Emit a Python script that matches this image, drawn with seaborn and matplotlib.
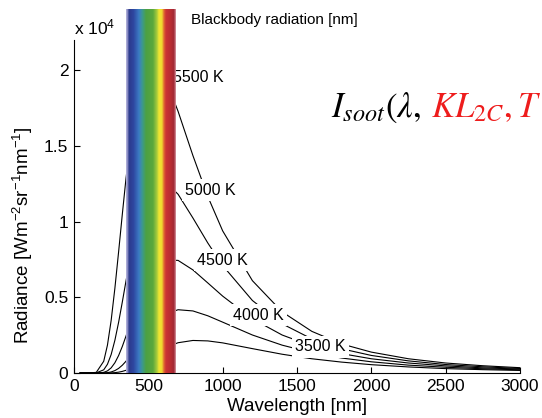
import numpy as np
import matplotlib
import matplotlib.pyplot as plt
import seaborn as sns
from matplotlib.colors import LinearSegmentedColormap

# radiance values, in units of 1e4 W m^-2 sr^-1 nm^-1
wavelength = [40, 100, 150, 200, 225, 250, 275, 300, 325, 350, 400, 500, 600, 700,
              800, 900, 1000, 1200, 1400, 1600, 1800, 2000, 2250, 2500, 2750, 3000]
r5500 = [0, 0.0000, 0.0042, 0.0777, 0.1843, 0.348, 0.560, 0.800, 1.049, 1.288, 1.682, 2.047, 1.983,
         1.729, 1.436, 1.166, 0.939, 0.610, 0.404, 0.275, 0.192, 0.138, 0.094, 0.066, 0.048, 0.035]
r5000 = [0, 0, 0.0007, 0.0210, 0.0577, 0.1223, 0.2162, 0.3346, 0.4691, 0.6097, 0.874, 1.211, 1.277,
         1.181, 1.024, 0.859, 0.710, 0.479, 0.325, 0.225, 0.160, 0.116, 0.080, 0.056, 0.041, 0.030]
r4500 = [0, 0, 0.0001, 0.0042, 0.0139, 0.0340, 0.0676, 0.1152, 0.1754, 0.2446, 0.393, 0.638, 0.747,
         0.744, 0.681, 0.595, 0.508, 0.358, 0.251, 0.178, 0.128, 0.094, 0.066, 0.047, 0.034, 0.026]
r4000 = [0, 0, 0, 0.0006, 0.0024, 0.0069, 0.0158, 0.0304, 0.0513, 0.0781, 0.1446, 0.287, 0.383,
         0.418, 0.410, 0.378, 0.336, 0.251, 0.184, 0.134, 0.099, 0.074, 0.052, 0.038, 0.028, 0.021]
r3500 = [0, 0, 0, 0, 0.0002, 0.0009, 0.0024, 0.0055, 0.0106, 0.0180, 0.0400, 0.102, 0.162,
         0.200, 0.215, 0.212, 0.199, 0.161, 0.124, 0.094, 0.072, 0.055, 0.040, 0.029, 0.022, 0.017]
curves = [r5500, r5000, r4500, r4000, r3500]

temp_labels = ['5500 K', '5000 K', '4500 K', '4000 K', '3500 K']
label_x = [666, 747, 827, 1070, 1487]
label_y = [1.954, 1.208, 0.746, 0.383, 0.172]

xticks = [0, 500, 1000, 1500, 2000, 2500, 3000]
yticks = [0, 0.5, 1, 1.5, 2]
ytick_labels = ['0', '0.5', '1', '1.5', '2']

# visible spectrum band
band_x = (350, 686)
band_top = 2.4
band_colors = [(0.0, '#b8b8de'), (0.03, '#8a8cc4'), (0.06, '#2c3a8c'), (0.15, '#2e46a0'),
               (0.26, '#3c7cc4'), (0.33, '#3c9a8c'), (0.40, '#4ca044'), (0.54, '#5aa83c'),
               (0.62, '#a8cc3c'), (0.66, '#f0e632'), (0.72, '#f0dc30'), (0.76, '#e06a30'),
               (0.80, '#cc3434'), (0.90, '#b82c32'), (0.96, '#a02834'), (1.0, '#d89aa4')]

sns.set_style('ticks')
plt.rcParams['font.family'] = ['Liberation Sans', 'DejaVu Sans']
plt.rcParams['mathtext.fontset'] = 'custom'
plt.rcParams['mathtext.rm'] = 'Liberation Sans'
plt.rcParams['mathtext.it'] = 'Liberation Sans:italic'
for key in ['text.color', 'axes.labelcolor', 'xtick.color', 'ytick.color', 'axes.edgecolor']:
    plt.rcParams[key] = 'black'

fig = plt.figure(figsize=(5.42, 4.18), dpi=100)
ax = fig.add_axes([74 / 542, 1 - 373 / 418, 446 / 542, 333 / 418])

for vals in curves:
    sns.lineplot(x=wavelength, y=vals, color='black', lw=0.8, ax=ax, zorder=2)

cmap = LinearSegmentedColormap.from_list('spec', band_colors)
grad = np.linspace(0, 1, 256)[None, :]
ax.imshow(grad, cmap=cmap, extent=(band_x[0], band_x[1], 0, band_top), aspect='auto',
          clip_on=False, zorder=5, interpolation='bilinear')

for lab, lx, ly in zip(temp_labels, label_x, label_y):
    ax.text(lx, ly, lab, ha='left', va='center', fontsize=11.5, zorder=4,
            bbox=dict(boxstyle='square,pad=0.2', fc='white', ec='none'))

ax.set_xlim(0, 3000)
ax.set_ylim(0, 2.2)
ax.set_xticks(xticks)
ax.set_xticklabels([str(t) for t in xticks])
ax.set_yticks(yticks)
ax.set_yticklabels(ytick_labels)
ax.tick_params(direction='in', length=4, width=0.8, labelsize=12.5, pad=4)
sns.despine(ax=ax)
for s in ['left', 'bottom']:
    ax.spines[s].set_linewidth(0.8)

ax.set_xlabel('Wavelength [nm]', fontsize=13.5, labelpad=3)
ax.set_ylabel(r'Radiance [Wm$^{-2}$sr$^{-1}$nm$^{-1}$]', fontsize=13.5)
ax.yaxis.set_label_coords(-0.088, 0.415)

fig.text(74 / 542, 1 - 27 / 418, r'x 10$^4$', fontsize=12.5, va='center', ha='left')
fig.text(191 / 542, 1 - 20 / 418, 'Blackbody radiation [nm]', fontsize=11, va='center', ha='left')

fig.text(331 / 542, 1 - 117 / 418, r'$I_{soot}(\lambda,$', fontsize=25, va='baseline',
         ha='left', math_fontfamily='stix', color='black')
fig.text(431 / 542, 1 - 117 / 418, r'$KL_{2C},T$', fontsize=25, va='baseline',
         ha='left', math_fontfamily='stix', color='#ee1c1c')

fig.savefig('out.png', dpi=100)
print("saved out.png")
